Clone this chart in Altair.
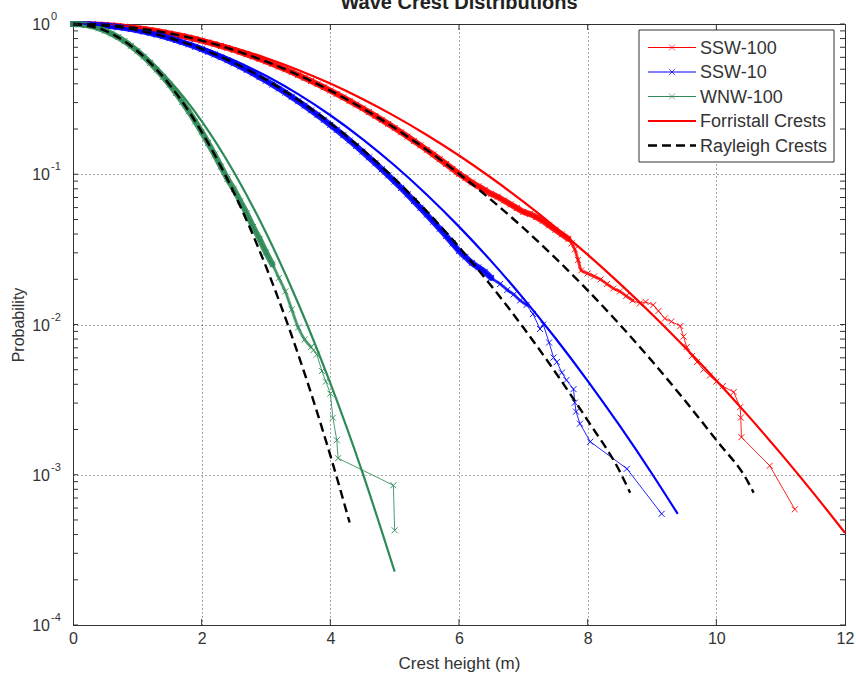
import altair as alt
import pandas as pd
import numpy as np

# ---------------- data (x = crest height m, values = log10 probability) -------------
# Measured exceedance data (markers)
ssw100_x = [round(v, 1) for v in np.arange(0, 6.05, 0.1)] + [
    6.1, 6.2, 6.3, 6.4, 6.5, 6.6, 6.7, 6.8, 6.9, 7.0, 7.1, 7.2, 7.3, 7.4, 7.5, 7.6, 7.7,
    7.75, 7.8, 7.85, 7.9, 8.0, 8.1, 8.2, 8.3, 8.4, 8.5, 8.6, 8.7,
    8.81, 8.9, 9.02, 9.1, 9.2, 9.3, 9.44, 9.49, 9.54, 9.62, 9.7, 9.8, 9.9, 10.0, 10.1,
    10.27, 10.37, 10.38, 10.39, 10.83, 11.22]
ssw100_logp = [
    0, -0.0003, -0.0011, -0.0025, -0.0044, -0.0069, -0.0100, -0.0136, -0.0177, -0.0224,
    -0.0277, -0.0335, -0.0399, -0.0468, -0.0543, -0.0623, -0.0709, -0.0800, -0.0897, -0.1000,
    -0.1108, -0.1221, -0.1341, -0.1465, -0.1595, -0.1731, -0.1872, -0.2019, -0.2172, -0.2329,
    -0.2493, -0.2662, -0.2836, -0.3016, -0.3202, -0.3393, -0.3590, -0.3792, -0.4000, -0.4213,
    -0.4432, -0.4656, -0.4886, -0.5121, -0.5362, -0.5609, -0.5861, -0.6118, -0.6382, -0.6650,
    -0.6925, -0.7204, -0.7490, -0.7780, -0.8077, -0.8379, -0.8686, -0.8999, -0.9318, -0.9642,
    -0.9971,
    -1.025, -1.055, -1.08, -1.105, -1.13, -1.15, -1.175, -1.20, -1.225, -1.25, -1.265, -1.285,
    -1.31, -1.34, -1.37, -1.40, -1.43,
    -1.46, -1.50, -1.57, -1.64, -1.66, -1.68, -1.70, -1.73, -1.76, -1.78, -1.81, -1.84,
    -1.86, -1.85, -1.87, -1.91, -1.96, -1.98, -2.01, -2.08, -2.15, -2.21, -2.25, -2.30, -2.34,
    -2.38, -2.41, -2.45, -2.55, -2.62, -2.75, -2.94, -3.23]

ssw10_x = [round(v, 1) for v in np.arange(0, 6.05, 0.1)] + [
    6.1, 6.2, 6.3, 6.4, 6.5, 6.64, 6.75, 6.85, 6.95, 7.05, 7.15, 7.26, 7.31, 7.4, 7.47,
    7.52, 7.6, 7.67, 7.78, 7.8, 7.82, 7.88, 8.04, 8.61, 9.15]
ssw10_logp = [
    0, -0.0004, -0.0017, -0.0038, -0.0067, -0.0105, -0.0151, -0.0206, -0.0269, -0.0340,
    -0.0420, -0.0508, -0.0604, -0.0709, -0.0822, -0.0944, -0.1074, -0.1213, -0.1359, -0.1515,
    -0.1678, -0.1850, -0.2031, -0.2219, -0.2417, -0.2622, -0.2836, -0.3059, -0.3289, -0.3528,
    -0.3776, -0.4032, -0.4296, -0.4569, -0.4850, -0.5140, -0.5437, -0.5744, -0.6058, -0.6382,
    -0.6713, -0.7053, -0.7401, -0.7758, -0.8123, -0.8496, -0.8878, -0.9268, -0.9667, -1.0073,
    -1.0489, -1.0913, -1.1345, -1.1786, -1.2234, -1.2692, -1.3157, -1.3631, -1.4114, -1.4605,
    -1.5104,
    -1.55, -1.59, -1.62, -1.65, -1.69, -1.73, -1.77, -1.80, -1.84, -1.87, -1.93, -2.03, -2.00,
    -2.12, -2.22, -2.25, -2.32, -2.37, -2.43, -2.52, -2.58, -2.66, -2.78, -2.96, -3.26]

wnw100_x = [round(v, 1) for v in np.arange(0, 2.35, 0.1)] + [
    2.4, 2.5, 2.6, 2.7, 2.8, 2.9, 3.0, 3.1, 3.2, 3.3, 3.4, 3.5, 3.6, 3.7, 3.74, 3.79,
    3.87, 3.93, 4.0, 4.04, 4.1, 4.12, 4.98, 5.0]
wnw100_logp = [
    0, -0.0018, -0.0072, -0.0162, -0.0287, -0.0449, -0.0646, -0.0879, -0.1149, -0.1454,
    -0.1795, -0.2171, -0.2584, -0.3033, -0.3517, -0.4038, -0.4594, -0.5186, -0.5814, -0.6479,
    -0.7178, -0.7914, -0.8686, -0.9493,
    -1.03, -1.10, -1.18, -1.26, -1.35, -1.43, -1.52, -1.60, -1.69, -1.78, -1.90, -2.02,
    -2.10, -2.15, -2.17, -2.20, -2.31, -2.38, -2.46, -2.62, -2.77, -2.89, -3.07, -3.37]

# extent of the dense (thick, overlapping-marker) part of each measured series
dense_until = {"SSW-100": 7.7, "SSW-10": 6.6, "WNW-100": 3.1}
semi_dense_until = {"SSW-100": 8.75, "SSW-10": 7.1, "WNW-100": 3.7}

# Forristall crest distributions (solid)
forr_red_x = [0, 0.5, 1, 1.5, 2, 2.5, 3, 3.5, 4, 4.5, 5, 5.5, 6, 6.5, 7, 7.5, 8, 8.5, 9,
              9.5, 10, 10.5, 11, 11.5, 12]
forr_red_logp = [0, -0.0068, -0.0265, -0.0585, -0.1025, -0.1585, -0.2262, -0.3057, -0.3967,
                 -0.4993, -0.6132, -0.7386, -0.8754, -1.0234, -1.1827, -1.3532, -1.5348,
                 -1.7276, -1.9315, -2.1466, -2.3725, -2.6098, -2.858, -3.117, -3.387]
forr_blue_x = [0, 0.5, 1, 1.5, 2, 2.5, 3, 3.5, 4, 4.5, 5, 5.5, 6, 6.5, 7, 7.5, 8, 8.5, 9, 9.4]
forr_blue_logp = [0, -0.0102, -0.0397, -0.0882, -0.1553, -0.2409, -0.3449, -0.4671, -0.6074,
                  -0.7658, -0.9420, -1.1363, -1.3485, -1.5783, -1.8259, -2.0914, -2.3747,
                  -2.6755, -2.9932, -3.2607]
forr_green_x = [0, 0.5, 1, 1.5, 2, 2.5, 3, 3.5, 4, 4.5, 5]
forr_green_logp = [0, -0.0472, -0.1748, -0.3756, -0.646, -0.9849, -1.3893, -1.8582,
                   -2.3909, -2.986, -3.645]

# Rayleigh crest distributions (dashed)
ray_red_x = [0, 0.5, 1, 1.5, 2, 2.5, 3, 3.5, 4, 4.5, 5, 5.5, 6, 6.5, 7, 7.5, 8, 8.5, 9,
             9.5, 10, 10.5, 10.58]
ray_red_logp = [0, -0.0069, -0.0277, -0.0623, -0.1108, -0.1731, -0.2493, -0.3393, -0.4432,
                -0.5609, -0.6925, -0.8379, -0.9971, -1.1702, -1.3572, -1.5580, -1.7727,
                -2.0012, -2.2435, -2.4998, -2.7698, -3.0537, -3.12]
ray_blue_x = [0, 0.5, 1, 1.5, 2, 2.5, 3, 3.5, 4, 4.5, 5, 5.5, 6, 6.5, 7, 7.5, 8, 8.5, 8.66]
ray_blue_logp = [0, -0.0103, -0.0412, -0.0928, -0.1649, -0.2577, -0.3711, -0.5050, -0.6596,
                 -0.8349, -1.0307, -1.2471, -1.4842, -1.7419, -2.0202, -2.3191, -2.6386,
                 -2.9787, -3.12]
ray_green_x = [0, 0.5, 1, 1.5, 2, 2.5, 3, 3.5, 4, 4.3]
ray_green_logp = [0, -0.0449, -0.1795, -0.4038, -0.7178, -1.1216, -1.6151, -2.1984,
                  -2.8714, -3.318]

x_ticks = [0, 2, 4, 6, 8, 10, 12]
y_decades = [1, 0.1, 0.01, 0.001, 0.0001]
y_exponents = ["0", "-1", "-2", "-3", "-4"]
legend_labels = ["SSW-100", "SSW-10", "WNW-100", "Forristall Crests", "Rayleigh Crests"]

RED, BLUE, GREEN, BLACK = "#ff0000", "#0000ff", "#2e8b57", "#000000"
FONT = "Liberation Sans"
W, H = 772, 601


def frame(xs, logs):
    return pd.DataFrame({"x": xs, "p": [10 ** v for v in logs]})


x_enc = alt.X(
    "x:Q",
    scale=alt.Scale(domain=[0, 12], nice=False, zero=False),
    axis=alt.Axis(
        values=x_ticks, grid=True, gridDash=[1, 3], gridColor="#222", gridOpacity=0.8,
        ticks=False, labelPadding=5, labelFontSize=16, labelColor="#333",
        domainColor="#333", title="Crest height (m)", titleFontSize=17,
        titleFontWeight="normal", titleColor="#333", titleY=38, titleBaseline="middle",
        labelFlush=False,
    ),
)
y_enc = alt.Y(
    "p:Q",
    scale=alt.Scale(type="log", domain=[1e-4, 1], nice=False),
    axis=alt.Axis(
        values=y_decades, grid=True, gridDash=[1, 3], gridColor="#222", gridOpacity=0.8,
        ticks=False, labels=False, domainColor="#333", title="Probability",
        titleFontSize=16, titleFontWeight="normal", titleColor="#333",
        titleX=-55, titleY=H / 2, titleAngle=270, titleAlign="center",
        titleBaseline="middle",
    ),
)

marker = "M-1,-1L1,1M-1,1L1,-1"
layers = []

# measured data: dense band (tapering) + thin line + x markers
for name, xs, ls, col in [("SSW-100", ssw100_x, ssw100_logp, RED),
                          ("SSW-10", ssw10_x, ssw10_logp, BLUE),
                          ("WNW-100", wnw100_x, wnw100_logp, GREEN)]:
    df = frame(xs, ls)
    semi = df[df["x"] <= semi_dense_until[name]]
    dense = df[df["x"] <= dense_until[name]]
    layers.append(alt.Chart(semi).mark_line(color=col, strokeWidth=3, opacity=0.75,
                                            interpolate="monotone", strokeCap="round")
                  .encode(x=x_enc, y=y_enc))
    layers.append(alt.Chart(dense).mark_line(color=col, strokeWidth=6, opacity=0.9,
                                             interpolate="monotone", strokeCap="round")
                  .encode(x=x_enc, y=y_enc))
    layers.append(alt.Chart(df).mark_line(color=col, strokeWidth=1, opacity=0.85)
                  .encode(x=x_enc, y=y_enc))
    layers.append(alt.Chart(df).mark_point(shape=marker, filled=False, size=36,
                                           strokeWidth=1, color=col, opacity=0.9)
                  .encode(x=x_enc, y=y_enc))

# Forristall solid
for xs, ls, col in [(forr_red_x, forr_red_logp, RED), (forr_blue_x, forr_blue_logp, BLUE),
                    (forr_green_x, forr_green_logp, GREEN)]:
    layers.append(alt.Chart(frame(xs, ls)).mark_line(color=col, strokeWidth=2.2,
                                                     interpolate="monotone")
                  .encode(x=x_enc, y=y_enc))

# Rayleigh dashed
for xs, ls in [(ray_red_x, ray_red_logp), (ray_blue_x, ray_blue_logp),
               (ray_green_x, ray_green_logp)]:
    layers.append(alt.Chart(frame(xs, ls)).mark_line(color=BLACK, strokeWidth=2.4,
                                                     strokeDash=[9, 5],
                                                     interpolate="monotone")
                  .encode(x=x_enc, y=y_enc))

# inward ticks (MATLAB style)
minor = [m * 10.0 ** k for k in range(-4, 0) for m in range(1, 10)] + [1.0]
ytick_df = pd.DataFrame({"p": minor})
layers.append(alt.Chart(ytick_df).mark_rule(color="#333", strokeWidth=1)
              .encode(y=y_enc, x=alt.value(0), x2=alt.value(5)))
layers.append(alt.Chart(ytick_df).mark_rule(color="#333", strokeWidth=1)
              .encode(y=y_enc, x=alt.value(W - 5), x2=alt.value(W)))
xtick_df = pd.DataFrame({"x": x_ticks[1:-1]})
layers.append(alt.Chart(xtick_df).mark_rule(color="#333", strokeWidth=1)
              .encode(x=x_enc, y=alt.value(H), y2=alt.value(H - 6)))
layers.append(alt.Chart(xtick_df).mark_rule(color="#333", strokeWidth=1)
              .encode(x=x_enc, y=alt.value(0), y2=alt.value(6)))

# y tick labels 10^k
ylab_df = pd.DataFrame({"p": y_decades, "e": y_exponents})
layers.append(alt.Chart(ylab_df).mark_text(align="right", baseline="middle", fontSize=16,
                                           font=FONT, color="#333", dy=1)
              .encode(y=y_enc, x=alt.value(-23), text=alt.value("10")))
layers.append(alt.Chart(ylab_df).mark_text(align="left", baseline="middle", fontSize=11,
                                           font=FONT, color="#333", dy=-7)
              .encode(y=y_enc, x=alt.value(-22), text="e:N"))

# title (partly cut at the top as in the reference)
one = pd.DataFrame({"k": [0]})
layers.append(alt.Chart(one).mark_text(align="center", baseline="alphabetic", fontSize=20,
                                       fontWeight="bold", font=FONT, color="#222")
              .encode(x=alt.value(W / 2), y=alt.value(-15),
                      text=alt.value("Wave Crest Distributions")))

# legend box
LX0, LX1, LY0, LY1 = 566, 761, 6, 138
layers.append(alt.Chart(one).mark_rect(fill="white", stroke="#333", strokeWidth=1)
              .encode(x=alt.value(LX0), x2=alt.value(LX1), y=alt.value(LY0),
                      y2=alt.value(LY1)))
styles = [(RED, 1, None, True), (BLUE, 1, None, True), (GREEN, 1, None, True),
          (RED, 2.2, None, False), (BLACK, 2.4, [9, 5], False)]
for i, (lab, (col, sw, dash, mk)) in enumerate(zip(legend_labels, styles)):
    yv = 23.5 + 24.5 * i
    kw = dict(color=col, strokeWidth=sw)
    if dash:
        kw["strokeDash"] = dash
    layers.append(alt.Chart(one).mark_rule(**kw)
                  .encode(x=alt.value(575), x2=alt.value(623), y=alt.value(yv)))
    if mk:
        layers.append(alt.Chart(one).mark_point(shape=marker, filled=False, size=34,
                                                strokeWidth=1, color=col)
                      .encode(x=alt.value(599), y=alt.value(yv)))
    layers.append(alt.Chart(one).mark_text(align="left", baseline="middle", fontSize=18,
                                           font=FONT, color="#333")
                  .encode(x=alt.value(627), y=alt.value(yv + 1), text=alt.value(lab)))

chart = (
    alt.layer(*layers)
    .properties(width=W, height=H, autosize=alt.AutoSizeParams(type="none"),
                padding={"left": 73, "top": 24, "right": 11, "bottom": 51})
    .configure(font=FONT)
    .configure_view(stroke="#333", strokeWidth=1)
)
chart.save("out.html", embed_options={"renderer": "svg", "actions": False})
